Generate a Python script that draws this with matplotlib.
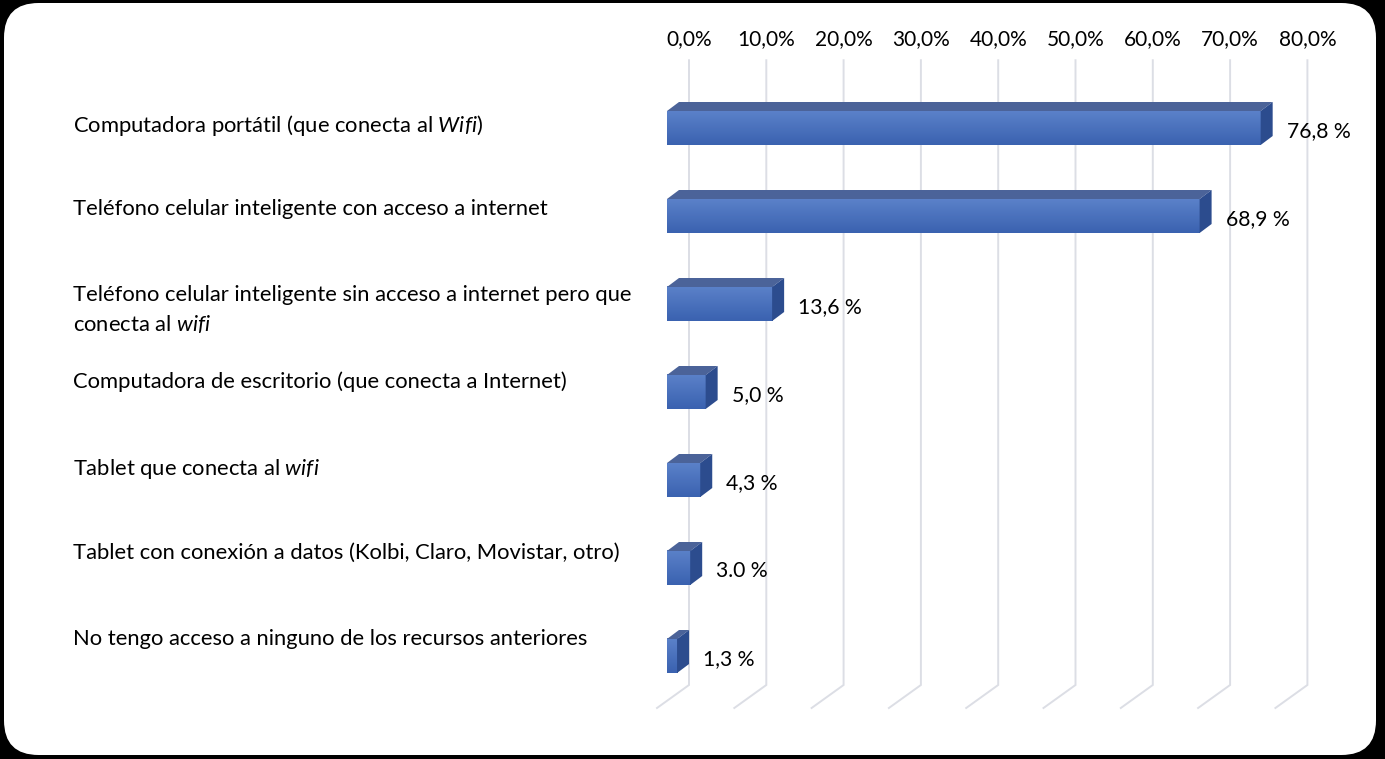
import numpy as np
import matplotlib
matplotlib.use("Agg")
import matplotlib.pyplot as plt
from matplotlib.patches import Polygon, FancyBboxPatch
from matplotlib.transforms import blended_transform_factory

plt.rcParams['font.family'] = ['Lato', 'DejaVu Sans']
plt.rcParams['mathtext.fontset'] = 'custom'
plt.rcParams['mathtext.rm'] = 'Lato'
plt.rcParams['mathtext.it'] = 'Lato:italic'

# data
categories = [
    'Computadora portátil (que conecta al $\\mathit{Wifi}$)',
    'Teléfono celular inteligente con acceso a internet',
    'Teléfono celular inteligente sin acceso a internet pero que\nconecta al $\\mathit{wifi}$',
    'Computadora de escritorio (que conecta a Internet)',
    'Tablet que conecta al $\\mathit{wifi}$',
    'Tablet con conexión a datos (Kolbi, Claro, Movistar, otro)',
    'No tengo acceso a ninguno de los recursos anteriores',
]
values = [76.8, 68.9, 13.6, 5.0, 4.3, 3.0, 1.3]
value_labels = ['76,8 %', '68,9 %', '13,6 %', '5,0 %', '4,3 %', '3.0 %', '1,3 %']
ticks = [0, 10, 20, 30, 40, 50, 60, 70, 80]
tick_labels = ['0,0%', '10,0%', '20,0%', '30,0%', '40,0%', '50,0%', '60,0%', '70,0%', '80,0%']

W, H = 1385, 759
fig = plt.figure(figsize=(W / 100, H / 100), dpi=100)
fig.patch.set_facecolor('black')
# white rounded panel on black border
fig.patches.append(FancyBboxPatch((4 / W, 4 / H), 1372 / W, 752 / H,
                                  boxstyle='round,pad=0,rounding_size=0.025',
                                  transform=fig.transFigure, facecolor='white',
                                  edgecolor='none', zorder=-10, mutation_aspect=W / H))

px_x = 7.73   # pixels per percent
px_y = 88.0   # pixels per bar slot
x0, x1 = -5.0, 88.0
y0, y1 = -0.8, 7.0
left_px = 689 + x0 * px_x
ax = fig.add_axes([left_px / W, 1 - (128 + y1 * px_y) / H,
                   (x1 - x0) * px_x / W, (y1 - y0) * px_y / H])
ax.set_zorder(1)
ax.set_xlim(x0, x1)
ax.set_ylim(y1, y0)
ax.patch.set_alpha(0)
for s in ax.spines.values():
    s.set_visible(False)
ax.set_yticks([])
ax.xaxis.tick_top()
ax.set_xticks(ticks)
ax.set_xticklabels(tick_labels, fontsize=15)
ax.tick_params(axis='x', length=0, pad=6)

# gridlines on back wall with floor slant
floor_y = (685 - 128) / px_y
slant_dx = -32 / px_x
slant_dy = 23 / px_y
for t in ticks:
    ax.plot([t, t, t + slant_dx], [y0 + 0.03, floor_y, floor_y + slant_dy],
            color='#dcdee5', lw=1.4, zorder=1, solid_joinstyle='miter')

# 3D bars: gradient front face, top face, side face
front_shift = -22 / px_x
dep_x = 12 / px_x
dep_y = -9 / px_y
half_h = 17 / px_y
grad = np.linspace(0, 1, 64).reshape(-1, 1)
cmap = matplotlib.colors.LinearSegmentedColormap.from_list('g', ['#5b81c9', '#3a62b0'])
for i, v in enumerate(values):
    fl = front_shift
    fr = front_shift + v
    yt = i - half_h
    yb = i + half_h
    ax.imshow(grad, extent=(fl, fr, yb, yt), cmap=cmap, aspect='auto',
              interpolation='bilinear', zorder=3)
    ax.add_patch(Polygon([(fl, yt), (fr, yt), (fr + dep_x, yt + dep_y), (fl + dep_x, yt + dep_y)],
                         closed=True, facecolor='#4b6399', edgecolor='none', zorder=3))
    ax.add_patch(Polygon([(fr, yt), (fr + dep_x, yt + dep_y), (fr + dep_x, yb + dep_y), (fr, yb)],
                         closed=True, facecolor='#2c4c8e', edgecolor='none', zorder=3))
    ax.text(fr + 26 / px_x, i + 3 / px_y, value_labels[i], fontsize=15.2,
            ha='left', va='center', color='black', zorder=4)

ax.set_xlim(x0, x1)
ax.set_ylim(y1, y0)

# category labels
trans = blended_transform_factory(fig.transFigure, ax.transData)
for i, c in enumerate(categories):
    ytop = (113 + 86 * i - 128) / px_y
    ax.text(73 / W, ytop, c, transform=trans, fontsize=15.8, ha='left', va='top',
            linespacing=1.45, color='black')

fig.savefig('out.png', dpi=100, facecolor=fig.get_facecolor())
